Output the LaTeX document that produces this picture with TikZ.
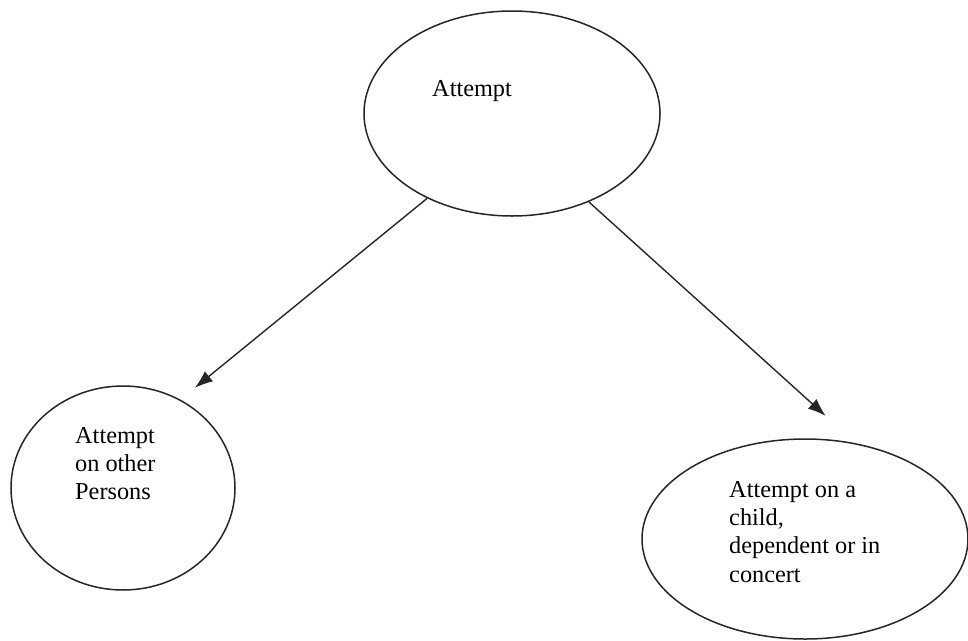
\documentclass[tikz,border=0pt]{standalone}
\usepackage{fontspec}
\setmainfont{Liberation Serif}
\usetikzlibrary{shapes.geometric,arrows.meta}

\begin{document}
\begin{tikzpicture}[x=1pt,y=-1pt,
    bubble/.style={draw=black!85,ellipse,line width=1.5pt,inner sep=0pt},
    txt/.style={inner sep=0pt,align=left,font=\fontsize{24.3}{28.3}\selectfont},
    arr/.style={draw=black!85,-{Latex[length=18pt,width=13pt]},line width=1.4pt}]

  %%%% Fix the page size %%%%
  \useasboundingbox (0,0) rectangle (968,640);

  %% the three ellipses
  \node[bubble,minimum width=296pt,minimum height=205pt] (attempt) at (512,113.5) {};
  \node[bubble,minimum width=224pt,minimum height=204pt] (persons) at (123,488) {};
  \node[bubble,minimum width=326pt,minimum height=200pt] (child)   at (805,539) {};

  %% texts inside them
  \node[txt,anchor=base west]  (attemptlbl) at (432,96)  {Attempt};
  \node[txt,anchor=north west] (personslbl) at (75,427)  {Attempt\\on other\\Persons};
  \node[txt,anchor=north west] (childlbl)   at (729,481) {Attempt on a\\child,\\dependent or in\\concert};

  %% arrows down to each kind
  \draw[arr,shorten >=18.7pt] (attempt.225) -- (persons.57);
  \draw[arr,shorten >=40.7pt] (attempt.311) -- (child.62);

\end{tikzpicture}
\end{document}
